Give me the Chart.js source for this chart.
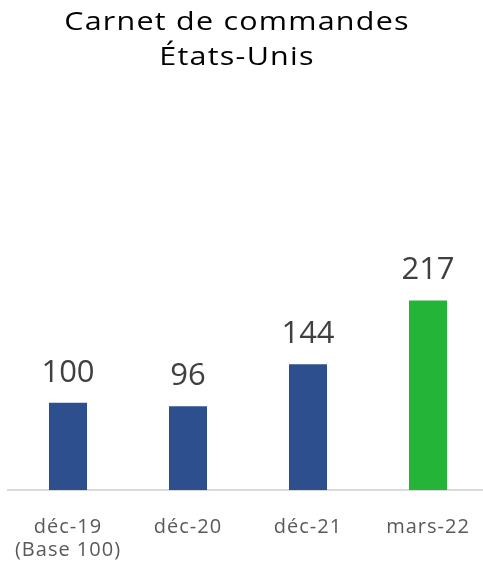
<!DOCTYPE html>
<html>
<head>
<meta charset="utf-8">
<script src="https://cdn.jsdelivr.net/npm/chart.js@4"></script>
<style>
  html, body { margin: 0; padding: 0; background: #fff; overflow: hidden; }
  #wrap { width: 483px; height: 570px; overflow: hidden; }
</style>
</head>
<body>
<div id="wrap"><canvas id="myChart" width="496" height="598"></canvas></div>
<script>
// Données du graphique
const categories = [['déc-19', '(Base 100)'], 'déc-20', 'déc-21', 'mars-22'];
const valeurs = [100, 96, 144, 217];
const couleurs = ['#2D4F8E', '#2D4F8E', '#2D4F8E', '#24B437'];
const titre = ['Carnet de commandes', 'États-Unis'];

const police = "'Open Sans', sans-serif";

// Espacement des lettres pour imiter une police plus large
const espacement = {
    id: 'espacement',
    beforeDraw(chart) {
        chart.ctx.letterSpacing = '1px';
    },
    afterDraw(chart) {
        chart.ctx.letterSpacing = '0px';
    }
};

// Étiquettes de valeur au-dessus des barres
const etiquettes = {
    id: 'etiquettes',
    afterDatasetsDraw(chart) {
        const ctx = chart.ctx;
        const meta = chart.getDatasetMeta(0);
        ctx.save();
        ctx.letterSpacing = '0px';
        ctx.font = `31px ${police}`;
        ctx.fillStyle = '#404040';
        ctx.textAlign = 'center';
        ctx.textBaseline = 'alphabetic';
        meta.data.forEach((barre, i) => {
            ctx.fillText(valeurs[i], barre.x, barre.y - 21);
        });
        ctx.restore();
    }
};

// Titre sur deux lignes
const titreGraphique = {
    id: 'titreGraphique',
    afterDraw(chart) {
        const ctx = chart.ctx;
        ctx.save();
        ctx.font = `25px ${police}`;
        ctx.fillStyle = '#000';
        ctx.textAlign = 'center';
        ctx.textBaseline = 'alphabetic';
        ctx.letterSpacing = '1px';
        titre.forEach((ligne, i) => {
            ctx.save();
            ctx.translate(237, 30 + i * 35);
            ctx.scale(1.22, 1);
            ctx.fillText(ligne, 0, 0);
            ctx.restore();
        });
        ctx.restore();
    }
};

const config = {
    type: 'bar',
    data: {
        labels: categories,
        datasets: [{
            data: valeurs,
            backgroundColor: couleurs,
            categoryPercentage: 1,
            barPercentage: 0.317
        }]
    },
    options: {
        responsive: false,
        animation: false,
        layout: { padding: { left: 8, right: 8, top: 228, bottom: 10 } },
        plugins: {
            legend: { display: false },
            tooltip: { enabled: false },
            title: { display: false }
        },
        scales: {
            x: {
                grid: { display: false, drawTicks: false },
                border: { display: true, color: '#d9d9d9', width: 2 },
                afterFit(scale) {
                    scale.paddingLeft = 0;
                    scale.paddingRight = 0;
                },
                ticks: {
                    color: '#595959',
                    padding: 26,
                    font: { family: police, size: 20, lineHeight: 1.15 }
                }
            },
            y: {
                display: false,
                min: 0,
                max: 300
            }
        }
    },
    plugins: [espacement, etiquettes, titreGraphique]
};

new Chart(document.getElementById('myChart'), config);
</script>
</body>
</html>
